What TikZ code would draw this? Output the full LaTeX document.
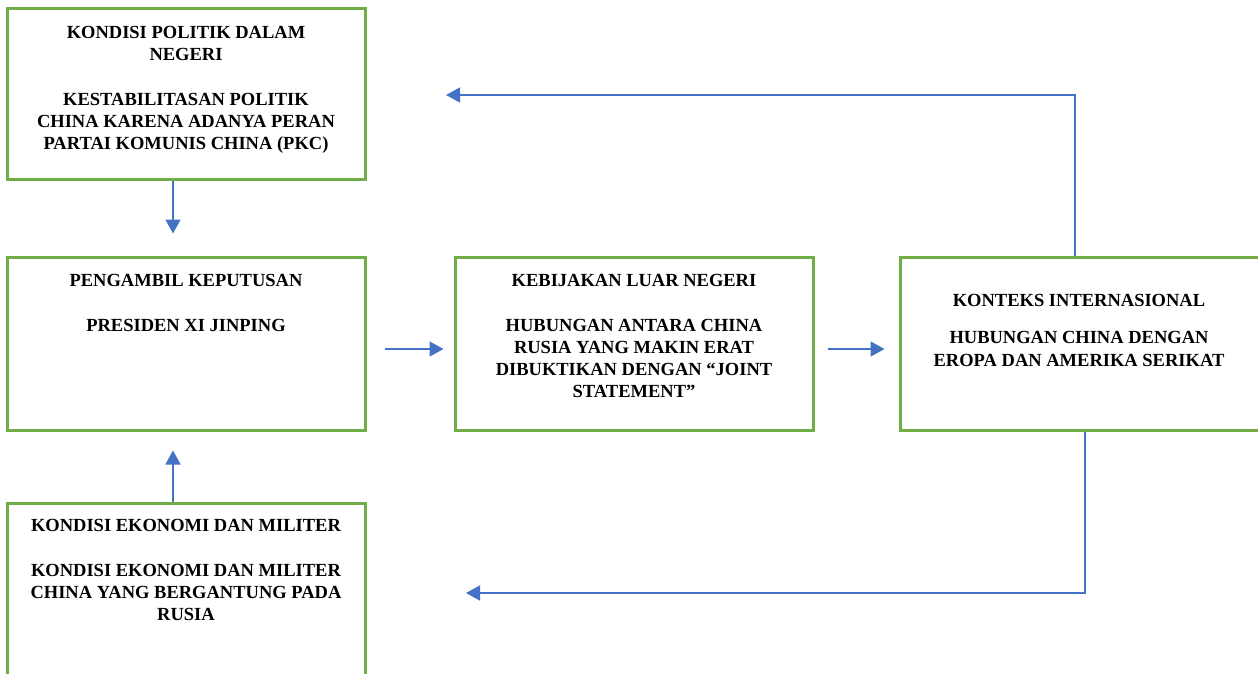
\documentclass[tikz,border=0pt]{standalone}
\usepackage{fontspec}
\setmainfont{Liberation Serif}
\usetikzlibrary{arrows.meta}
\definecolor{boxgreen}{HTML}{70AD47}
\definecolor{arrblue}{HTML}{4472C4}
\tikzset{
  box/.style={draw=boxgreen, line width=3pt, fill=none, rectangle, inner sep=0pt},
  txt/.style={font=\bfseries\fontsize{18.5}{22.3}\selectfont, align=center, inner sep=0pt, anchor=north, text=black},
  conn/.style={draw=arrblue, line width=1.6pt, -{Triangle[length=14pt,width=15pt]}},
}
\begin{document}
\begin{tikzpicture}[x=1pt,y=-1pt]
\useasboundingbox (0,0) rectangle (1258,673);
\fill[white] (0,0) rectangle (1258,673);

% boxes
\node[box, minimum width=358pt, minimum height=171pt] (A) at (186,93.5) {};
\node[box, minimum width=358pt, minimum height=173pt] (B) at (186,343.5) {};
\node[box, minimum width=358pt, minimum height=173pt] (C) at (634,343.5) {};
\node[box, minimum width=362pt, minimum height=173pt] (D) at (1081,343.5) {};
\node[box, minimum width=358pt, minimum height=197pt] (E) at (186,601.5) {};

% texts
\node[txt] (At) at (186,26) {KONDISI POLITIK DALAM\\NEGERI\\[22.3pt]KESTABILITASAN POLITIK\\CHINA KARENA ADANYA PERAN\\PARTAI KOMUNIS CHINA (PKC)};
\node[txt] (Bt) at (186,274) {PENGAMBIL KEPUTUSAN\\[22.3pt]PRESIDEN XI JINPING};
\node[txt] (Ct) at (634,274) {KEBIJAKAN LUAR NEGERI\\[22.3pt]HUBUNGAN ANTARA CHINA\\RUSIA YANG MAKIN ERAT\\DIBUKTIKAN DENGAN “JOINT\\STATEMENT”};
\node[txt] (Dt) at (1079,294) {KONTEKS INTERNASIONAL\\[15pt]HUBUNGAN CHINA DENGAN\\EROPA DAN AMERIKA SERIKAT};
\node[txt] (Et) at (186,519) {KONDISI EKONOMI DAN MILITER\\[22.3pt]KONDISI EKONOMI DAN MILITER\\CHINA YANG BERGANTUNG PADA\\RUSIA};

% free ends
\coordinate (topend) at (446,95);
\coordinate (botend) at (466,593);

% connectors
\draw[conn, shorten >=22pt] ([xshift=-13pt]A.south) -- ([xshift=-13pt]B.north);
\draw[conn, shorten >=19pt] ([xshift=-13pt]E.north) -- ([xshift=-13pt]B.south);
\draw[conn, shorten <=18pt, shorten >=10pt] ([yshift=-5.5pt]B.east) -- ([yshift=-5.5pt]C.west);
\draw[conn, shorten <=13pt, shorten >=14pt] ([yshift=-5.5pt]C.east) -- ([yshift=-5.5pt]D.west);
\draw[conn] ([xshift=-6pt]D.north) |- (topend);
\draw[conn] ([xshift=4pt]D.south) |- (botend);
\end{tikzpicture}
\end{document}
